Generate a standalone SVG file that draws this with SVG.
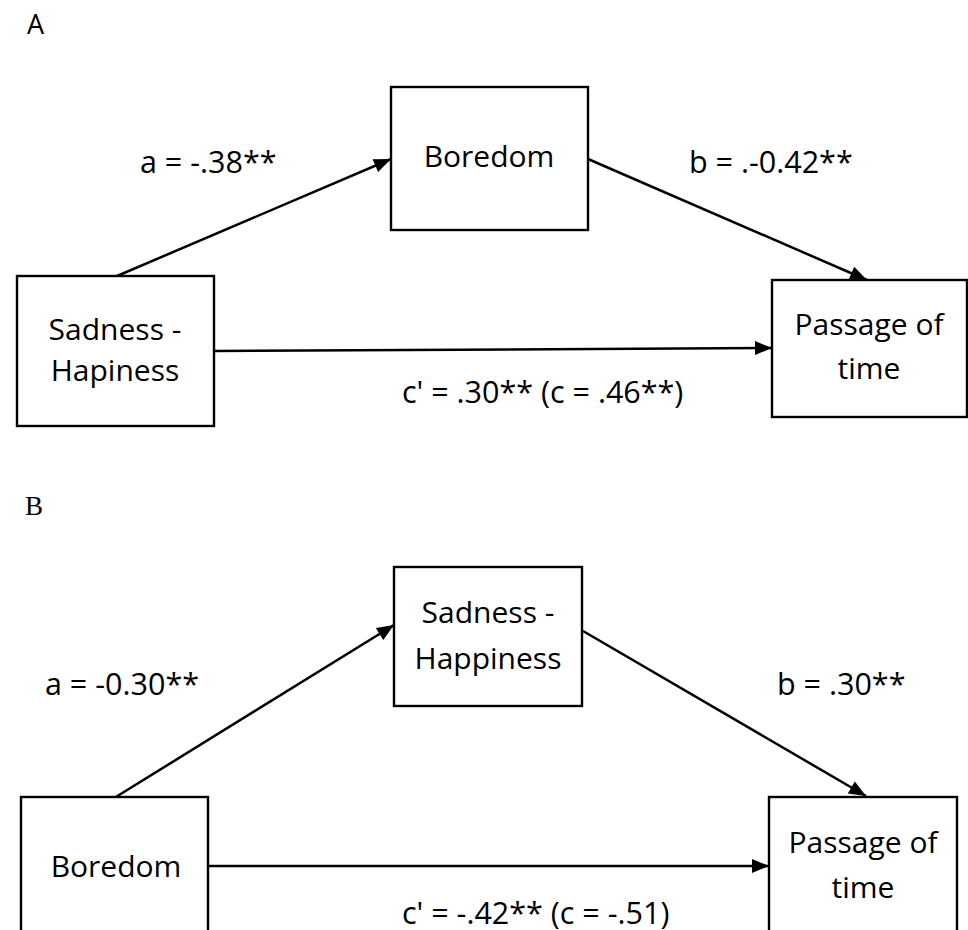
<svg xmlns="http://www.w3.org/2000/svg" width="968" height="930" viewBox="0 0 968 930">
<style>
.box{fill:#fff;stroke:#000;stroke-width:2.4}
.t{font-family:"Open Sans","Noto Sans",sans-serif;font-size:30px;fill:#000}
.e{font-family:"Open Sans","Noto Sans",sans-serif;font-size:30.5px;fill:#000}
.c{text-anchor:middle}
.edge{stroke:#000;stroke-width:2.5;fill:none;marker-end:url(#ah)}
</style>
<defs>
<marker id="ah" markerUnits="userSpaceOnUse" markerWidth="20" markerHeight="18" viewBox="0 0 20 18" refX="19" refY="9" orient="auto">
<path d="M2,2 L19,9 L2,16 Z" fill="#000"/>
</marker>
</defs>
<rect width="968" height="930" fill="#fff"/>
<text x="27" y="34" style="font-family:'Open Sans','Liberation Sans',sans-serif;font-size:27px;fill:#000">A</text>
<text x="25" y="515" style="font-family:'Liberation Serif',serif;font-size:27px;fill:#000">B</text>

<g id="connectors">
<line class="edge" x1="117" y1="276" x2="391" y2="159"/>
<line class="edge" x1="588" y1="159" x2="867" y2="280"/>
<line class="edge" x1="214" y1="351" x2="772" y2="348"/>
<line class="edge" x1="111" y1="800" x2="394" y2="625"/>
<line class="edge" x1="583" y1="631" x2="866" y2="796"/>
<line class="edge" x1="208" y1="866" x2="769" y2="866"/>
</g>

<g id="labels">
<text class="e" x="140" y="173">a = -.38**</text>
<text class="e" x="689" y="173">b = .-0.42**</text>
<text class="e" x="402" y="403">c' = .30** (c = .46**)</text>
<text class="e" x="45" y="695">a = -0.30**</text>
<text class="e" x="777" y="695">b = .30**</text>
<text class="e" x="402" y="924">c' = -.42** (c = -.51)</text>
</g>

<g id="nodeA1">
<rect class="box" x="17" y="276" width="197" height="150"/>
<text class="t c" x="115" y="340">Sadness -</text>
<text class="t c" x="115" y="381">Hapiness</text>
</g>
<g id="nodeA2">
<rect class="box" x="391" y="87" width="197" height="143"/>
<text class="t c" x="489" y="167">Boredom</text>
</g>
<g id="nodeA3">
<rect class="box" x="772" y="280" width="195" height="137"/>
<text class="t c" x="869" y="335">Passage of</text>
<text class="t c" x="869" y="379">time</text>
</g>

<g id="nodeB1">
<rect class="box" x="21" y="797" width="187" height="150"/>
<text class="t c" x="116" y="877">Boredom</text>
</g>
<g id="nodeB2">
<rect class="box" x="394" y="567" width="188" height="139"/>
<text class="t c" x="488" y="623">Sadness -</text>
<text class="t c" x="488" y="669">Happiness</text>
</g>
<g id="nodeB3">
<rect class="box" x="769" y="797" width="188" height="150"/>
<text class="t c" x="863" y="853">Passage of</text>
<text class="t c" x="863" y="898">time</text>
</g>
</svg>
